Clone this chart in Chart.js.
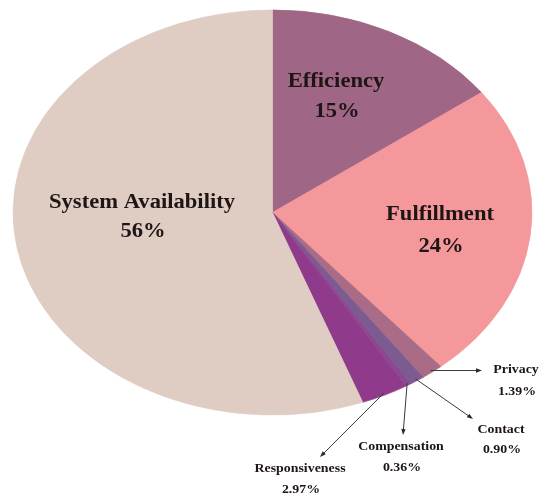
<!DOCTYPE html>
<html>
<head>
<meta charset="utf-8">
<title>Service quality dimensions</title>
<script src="https://cdn.jsdelivr.net/npm/chart.js@4"></script>
<style>
    html, body { margin: 0; padding: 0; background: #ffffff; overflow: hidden; }
    #wrap { position: relative; width: 539px; height: 495px; }
</style>
</head>
<body>
<div id="wrap"><canvas id="pieChart"></canvas></div>
<script>
// slices, clockwise from 12 o'clock
const categories = ["Efficiency", "Fulfillment", "Privacy", "Contact", "Compensation", "Responsiveness", "System Availability"]
const shares = [15, 24, 1.39, 0.90, 0.36, 2.97, 56]
const sliceColors = ["#9f6686", "#f4989c", "#a96b86", "#7c5b91", "#8a4a8f", "#903a8c", "#dfccc3"]

// the pie is drawn stretched sideways into an oval
const stretchX = 1.281
const textStretch = 1.13

// where each caption sits; the small slices get an arrow pointing at them
const captions = {
    "Efficiency": { x: 336, y: 82, size: 20, gap: 30 },
    "Fulfillment": { x: 440, y: 215, size: 20, gap: 32 },
    "System Availability": { x: 142, y: 203, size: 20, gap: 29 },
    "Privacy": { x: 516, y: 370, size: 12.3, gap: 22, arrowTo: [482, null] },
    "Contact": { x: 501, y: 430, size: 12.3, gap: 20, arrowTo: [473, 419] },
    "Compensation": { x: 401, y: 447, size: 12.3, gap: 21, arrowTo: [403, 435] },
    "Responsiveness": { x: 300, y: 469, size: 12.3, gap: 21, arrowTo: [320, 457] },
}

function formatShare(v) {
    return v >= 10 ? v + "%" : v.toFixed(2) + "%"
}

function drawText(ctx, text, x, y, size) {
    ctx.save()
    ctx.translate(x, y)
    ctx.scale(textStretch, 1)
    ctx.font = "bold " + size + "px 'Liberation Serif', 'Times New Roman', serif"
    ctx.textAlign = "center"
    ctx.textBaseline = "middle"
    ctx.fillStyle = "#1e1515"
    ctx.fillText(text, 0, 0)
    ctx.restore()
}

function drawArrow(ctx, x1, y1, x2, y2) {
    const ang = Math.atan2(y2 - y1, x2 - x1)
    const head = 6
    ctx.save()
    ctx.strokeStyle = "#3a3a3a"
    ctx.fillStyle = "#2a2a2a"
    ctx.lineWidth = 1
    ctx.beginPath()
    ctx.moveTo(x1, y1)
    ctx.lineTo(x2 - Math.cos(ang) * head * 0.6, y2 - Math.sin(ang) * head * 0.6)
    ctx.stroke()
    ctx.beginPath()
    ctx.moveTo(x2, y2)
    ctx.lineTo(x2 - head * Math.cos(ang) + 2.2 * Math.sin(ang), y2 - head * Math.sin(ang) - 2.2 * Math.cos(ang))
    ctx.lineTo(x2 - head * Math.cos(ang) - 2.2 * Math.sin(ang), y2 - head * Math.sin(ang) + 2.2 * Math.cos(ang))
    ctx.closePath()
    ctx.fill()
    ctx.restore()
}

// squash the round pie into an oval around its centre
const ovalPlugin = {
    id: "oval",
    beforeDatasetsDraw(chart) {
        const arc = chart.getDatasetMeta(0).data[0]
        const ctx = chart.ctx
        ctx.save()
        ctx.translate(arc.x, 0)
        ctx.scale(stretchX, 1)
        ctx.translate(-arc.x, 0)
    },
    afterDatasetsDraw(chart) {
        chart.ctx.restore()
    },
}

const captionPlugin = {
    id: "captions",
    afterDraw(chart) {
        const ctx = chart.ctx
        const arcs = chart.getDatasetMeta(0).data
        arcs.forEach((arc, i) => {
            const name = categories[i]
            const c = captions[name]
            if (c.arrowTo) {
                const mid = (arc.startAngle + arc.endAngle) / 2
                const r = arc.outerRadius * 0.99
                const sx = arc.x + stretchX * r * Math.cos(mid)
                const sy = arc.y + r * Math.sin(mid)
                const ex = c.arrowTo[0]
                const ey = c.arrowTo[1] === null ? sy : c.arrowTo[1]
                drawArrow(ctx, sx, sy, ex, ey)
            }
            drawText(ctx, name, c.x, c.y, c.size)
            drawText(ctx, formatShare(shares[i]), c.x + 1, c.y + c.gap, c.size)
        })
    },
}

new Chart(document.getElementById("pieChart"), {
    type: "pie",
    data: {
        labels: categories,
        datasets: [
            {
                data: shares,
                backgroundColor: sliceColors,
                borderColor: sliceColors,
                borderWidth: 0.6,
                hoverOffset: 0,
            },
        ],
    },
    options: {
        responsive: true,
        maintainAspectRatio: false,
        animation: false,
        radius: 202.5,
        layout: {
            padding: { left: 70, right: 64, top: 10, bottom: 80 },
        },
        plugins: {
            legend: { display: false },
            tooltip: { enabled: false },
        },
    },
    plugins: [ovalPlugin, captionPlugin],
})
</script>
</body>
</html>
